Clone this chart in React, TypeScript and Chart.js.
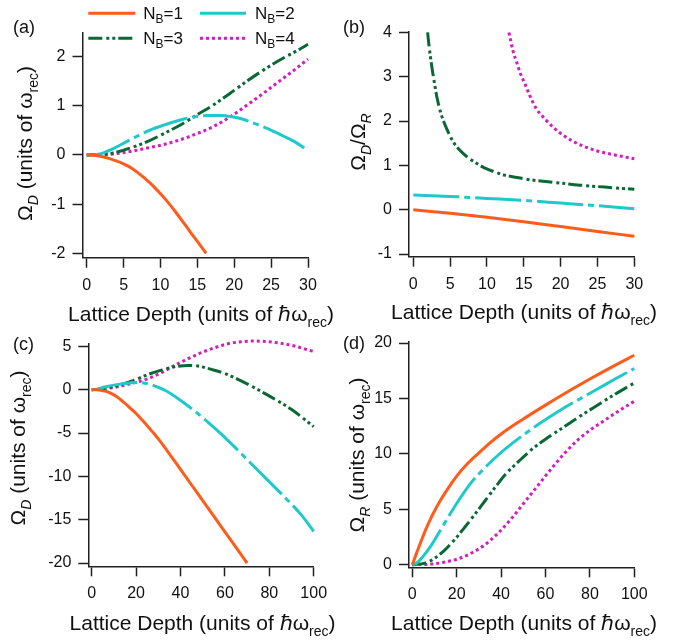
import React, { useEffect, useRef } from "react";
import { Chart, registerables } from "chart.js";

Chart.register(...registerables);

const W = 691;
const H = 641;
const FAMILY = '"Liberation Sans", Arial, Helvetica, sans-serif';

// ---------- Panel (a): Omega_D vs lattice depth (0–30) ----------
const a_nb1_depth = [0, 1, 2, 3, 4, 5, 6, 7, 8, 9, 10, 11, 12, 13, 14, 15, 16, 16.2];
const a_nb1_value = [0, -0.005, -0.03, -0.07, -0.12, -0.18, -0.26, -0.37, -0.49, -0.63, -0.79, -0.96, -1.15, -1.35, -1.56, -1.76, -1.96, -2.0];
const a_nb2_depth = [0, 1, 1.8, 2.7, 3.6, 5.4, 7.2, 9, 10.9, 12.7, 14, 16.3, 18.1, 19.5, 21.3, 23.1, 24.9, 26.7, 28.5, 30];
const a_nb2_value = [0, 0.005, 0.02, 0.07, 0.13, 0.27, 0.41, 0.53, 0.63, 0.71, 0.76, 0.8, 0.8, 0.78, 0.72, 0.62, 0.51, 0.38, 0.24, 0.09];
const a_nb3_depth = [0, 2, 3.6, 5.9, 8.2, 10.4, 12.7, 14.9, 17.2, 19.5, 21.7, 24, 26.3, 28.5, 30];
const a_nb3_value = [0, 0.01, 0.04, 0.14, 0.27, 0.43, 0.61, 0.81, 1.02, 1.26, 1.5, 1.73, 1.94, 2.12, 2.25];
const a_nb4_depth = [0, 2, 3.6, 5.9, 8.2, 10.4, 12.7, 14.9, 17.2, 19.5, 21.7, 24, 26.3, 28.5, 30];
const a_nb4_value = [0, 0.005, 0.02, 0.07, 0.14, 0.21, 0.31, 0.43, 0.58, 0.78, 1.01, 1.26, 1.52, 1.77, 1.95];

// ---------- Panel (b): Omega_D / Omega_R vs lattice depth (0–30) ----------
const b_nb1_depth = [0, 5, 10, 15, 20, 25, 30];
const b_nb1_value = [0, -0.08, -0.17, -0.27, -0.38, -0.49, -0.6];
const b_nb2_depth = [0, 5, 10, 15, 20, 25, 30];
const b_nb2_value = [0.33, 0.3, 0.255, 0.21, 0.15, 0.09, 0.02];
const b_nb3_depth = [1.95, 2.13, 2.49, 2.85, 3.26, 3.76, 4.53, 5.43, 6.33, 7.24, 8.37, 9.73, 11.1, 12.4, 14.3, 16.1, 18.3, 20.6, 22.9, 26, 30];
const b_nb3_value = [4.0, 3.71, 3.26, 2.88, 2.5, 2.17, 1.83, 1.53, 1.34, 1.2, 1.07, 0.94, 0.85, 0.78, 0.72, 0.67, 0.63, 0.59, 0.55, 0.51, 0.46];
const b_nb4_depth = [12.99, 13.26, 13.57, 14.03, 14.48, 15.16, 15.8, 16.7, 17.87, 19, 20.1, 21.5, 23.3, 25.1, 26.9, 30];
const b_nb4_value = [4.0, 3.78, 3.56, 3.33, 3.1, 2.84, 2.58, 2.28, 2.05, 1.86, 1.71, 1.56, 1.42, 1.32, 1.25, 1.15];

// ---------- Panel (c): Omega_D vs lattice depth (0–100) ----------
const c_nb1_depth = [0, 2, 4, 6, 8, 10, 12, 14, 16, 18, 20, 22.5, 25, 27.5, 30, 35, 40, 45, 50, 55, 60, 65, 70];
const c_nb1_value = [0, -0.02, -0.07, -0.17, -0.33, -0.6, -0.95, -1.37, -1.8, -2.28, -2.75, -3.45, -4.15, -4.9, -5.68, -7.4, -9.2, -11.0, -12.8, -14.6, -16.4, -18.2, -20.0];
const c_nb2_depth = [0, 2.5, 5.85, 11.8, 17.8, 20, 22.3, 25.4, 28.4, 34.4, 40.4, 46.4, 50.9, 55.4, 59.9, 65.1, 72.1, 79.5, 87.1, 94.6, 100];
const c_nb2_value = [0, 0.06, 0.3, 0.61, 0.81, 0.83, 0.81, 0.69, 0.42, -0.27, -1.31, -2.47, -3.43, -4.45, -5.5, -6.8, -8.6, -10.5, -12.45, -14.5, -16.35];
const c_nb3_depth = [0, 3, 7.34, 13.4, 19.4, 25.4, 31.4, 37.4, 43.4, 47.9, 53.9, 59.9, 65.9, 71.9, 77.9, 83.9, 89.9, 95.9, 100];
const c_nb3_value = [0, 0.04, 0.23, 0.61, 1.11, 1.76, 2.26, 2.65, 2.8, 2.72, 2.34, 1.88, 1.19, 0.42, -0.43, -1.31, -2.27, -3.43, -4.27];
const c_nb4_depth = [0, 3, 7.34, 13.4, 19.4, 25.4, 31.4, 37.4, 43.4, 49.4, 55.4, 61.4, 67.4, 73.4, 79.4, 85.4, 91.4, 98.2, 100];
const c_nb4_value = [0, 0.03, 0.15, 0.42, 0.81, 1.27, 1.96, 2.8, 3.57, 4.27, 4.84, 5.3, 5.53, 5.61, 5.53, 5.34, 5.03, 4.53, 4.4];

// ---------- Panel (d): Omega_R vs lattice depth (0–100) ----------
const d_nb1_depth = [0, 2, 4, 6, 8, 10, 12.5, 15, 17.5, 20, 25, 30, 35, 40, 50, 60, 70, 80, 90, 100];
const d_nb1_value = [0, 1.1, 2.15, 3.15, 4.05, 4.85, 5.75, 6.55, 7.3, 8.0, 9.15, 10.1, 11.0, 11.8, 13.15, 14.4, 15.6, 16.75, 17.85, 18.9];
const d_nb2_depth = [0, 2, 4.2, 8.7, 13.2, 17.7, 22.2, 26.7, 32.7, 38.7, 46.3, 53.8, 61.3, 68.8, 76.3, 83.8, 91.3, 100];
const d_nb2_value = [0, 0.15, 0.6, 1.8, 3.3, 4.8, 6.2, 7.45, 8.75, 9.9, 11.15, 12.25, 13.25, 14.2, 15.05, 15.9, 16.75, 17.7];
const d_nb3_depth = [0, 5.7, 10.2, 14.7, 19.2, 23.7, 28.2, 32.7, 37.2, 41.7, 47.8, 53.8, 59.8, 67.3, 74.8, 82.3, 89.8, 100];
const d_nb3_value = [0, 0.15, 0.6, 1.35, 2.3, 3.4, 4.55, 5.75, 6.95, 8.1, 9.3, 10.4, 11.3, 12.3, 13.3, 14.25, 15.2, 16.4];
const d_nb4_depth = [0, 8.7, 14.7, 20.7, 26.7, 32.7, 38.7, 44.8, 50.8, 56.8, 62.8, 68.8, 74.8, 80.8, 86.8, 92.8, 100];
const d_nb4_value = [0, 0.06, 0.24, 0.54, 1.06, 1.8, 2.86, 4.2, 5.7, 7.2, 8.7, 10.1, 11.3, 12.25, 13.05, 13.85, 14.75];

// ---------- ticks ----------
const ticksX30 = [0, 5, 10, 15, 20, 25, 30];
const ticksX100 = [0, 20, 40, 60, 80, 100];
const ticksYA = [-2, -1, 0, 1, 2];
const ticksYB = [-1, 0, 1, 2, 3, 4];
const ticksYC = [-20, -15, -10, -5, 0, 5];
const ticksYD = [0, 5, 10, 15, 20];

const legendLabels = ["1", "2", "3", "4"];

// ---------- styles ----------
const COLORS = ["#ff5b1a", "#1fc9c9", "#0a6834", "#d21ebe"];
const DASHES: number[][] = [[], [46, 5, 6, 5], [14, 4, 3, 3, 3, 3], [3, 3]];
const AXIS = "#202020";

type Seg = { t: string; sub?: boolean; it?: boolean };

function fontOf(size: number, it?: boolean) {
  return `${it ? "italic " : ""}${size}px ${FAMILY}`;
}

function drawRich(
  ctx: CanvasRenderingContext2D,
  segs: Seg[],
  x: number,
  baseline: number,
  size: number,
  subSize: number,
  subDy: number,
  align: "left" | "center"
) {
  let w = 0;
  for (const s of segs) {
    ctx.font = fontOf(s.sub ? subSize : size, s.it);
    w += ctx.measureText(s.t).width;
  }
  let cx = align === "center" ? x - w / 2 : x;
  ctx.textAlign = "left";
  ctx.textBaseline = "alphabetic";
  for (const s of segs) {
    ctx.font = fontOf(s.sub ? subSize : size, s.it);
    ctx.fillText(s.t, cx, baseline + (s.sub ? subDy : 0));
    cx += ctx.measureText(s.t).width;
  }
}

const xTitleSegs: Seg[] = [
  { t: "Lattice Depth (units of \u210Fω" },
  { t: "rec", sub: true },
  { t: ")" },
];
const yTitleD: Seg[] = [
  { t: "Ω" },
  { t: "D", sub: true, it: true },
  { t: " (units of ω" },
  { t: "rec", sub: true },
  { t: ")" },
];
const yTitleRatio: Seg[] = [
  { t: "Ω" },
  { t: "D", sub: true, it: true },
  { t: "/Ω" },
  { t: "R", sub: true, it: true },
];
const yTitleR: Seg[] = [
  { t: "Ω" },
  { t: "R", sub: true, it: true },
  { t: " (units of ω" },
  { t: "rec", sub: true },
  { t: ")" },
];

interface Spec {
  area: { l: number; t: number; r: number; b: number };
  xmin: number;
  xmax: number;
  xticks: number[];
  ymin: number;
  ymax: number;
  yticks: number[];
  series: { xs: number[]; ys: number[] }[];
  label: { text: string; x: number; y: number };
  xTitle: { cx: number; by: number };
  yTitle: { segs: Seg[]; bx: number; cy: number };
  legend?: boolean;
}

const specs: Spec[] = [
  {
    area: { l: 82.5, t: 33, r: 308, b: 257.7 },
    xmin: -0.57, xmax: 30, xticks: ticksX30,
    ymin: -2.09, ymax: 2.48, yticks: ticksYA,
    series: [
      { xs: a_nb1_depth, ys: a_nb1_value },
      { xs: a_nb2_depth, ys: a_nb2_value },
      { xs: a_nb3_depth, ys: a_nb3_value },
      { xs: a_nb4_depth, ys: a_nb4_value },
    ],
    label: { text: "(a)", x: 13, y: 33 },
    xTitle: { cx: 201, by: 320.7 },
    yTitle: { segs: yTitleD, bx: 32, cy: 143.5 },
    legend: true,
  },
  {
    area: { l: 409, t: 32, r: 634.3, b: 256.7 },
    xmin: -0.58, xmax: 30, xticks: ticksX30,
    ymin: -1.06, ymax: 4.01, yticks: ticksYB,
    series: [
      { xs: b_nb1_depth, ys: b_nb1_value },
      { xs: b_nb2_depth, ys: b_nb2_value },
      { xs: b_nb3_depth, ys: b_nb3_value },
      { xs: b_nb4_depth, ys: b_nb4_value },
    ],
    label: { text: "(b)", x: 343, y: 33 },
    xTitle: { cx: 524, by: 319 },
    yTitle: { segs: yTitleRatio, bx: 365, cy: 142 },
  },
  {
    area: { l: 88.3, t: 343.3, r: 313.7, b: 566.3 },
    xmin: -1.53, xmax: 100, xticks: ticksX100,
    ymin: -20.38, ymax: 5.35, yticks: ticksYC,
    series: [
      { xs: c_nb1_depth, ys: c_nb1_value },
      { xs: c_nb2_depth, ys: c_nb2_value },
      { xs: c_nb3_depth, ys: c_nb3_value },
      { xs: c_nb4_depth, ys: c_nb4_value },
    ],
    label: { text: "(c)", x: 13, y: 349.5 },
    xTitle: { cx: 202.5, by: 630 },
    yTitle: { segs: yTitleD, bx: 25, cy: 448 },
  },
  {
    area: { l: 409, t: 341.7, r: 634.3, b: 567.3 },
    xmin: -1.49, xmax: 100, xticks: ticksX100,
    ymin: -0.23, ymax: 20.12, yticks: ticksYD,
    series: [
      { xs: d_nb1_depth, ys: d_nb1_value },
      { xs: d_nb2_depth, ys: d_nb2_value },
      { xs: d_nb3_depth, ys: d_nb3_value },
      { xs: d_nb4_depth, ys: d_nb4_value },
    ],
    label: { text: "(d)", x: 343, y: 349 },
    xTitle: { cx: 524, by: 630 },
    yTitle: { segs: yTitleR, bx: 364, cy: 455 },
  },
];

function drawLegend(ctx: CanvasRenderingContext2D) {
  const pos = [
    { x: 88.3, y: 13.3 },
    { x: 200, y: 13.3 },
    { x: 88.3, y: 38.3 },
    { x: 200, y: 38.3 },
  ];
  pos.forEach((p, i) => {
    ctx.save();
    ctx.strokeStyle = COLORS[i];
    ctx.lineWidth = 3;
    ctx.setLineDash(DASHES[i]);
    ctx.beginPath();
    ctx.moveTo(p.x, p.y);
    ctx.lineTo(p.x + 47, p.y);
    ctx.stroke();
    ctx.restore();
    ctx.fillStyle = "#111";
    drawRich(
      ctx,
      [{ t: "N" }, { t: "B", sub: true }, { t: "=" + legendLabels[i] }],
      p.x + 55,
      p.y + 5.5,
      17,
      12,
      4,
      "left"
    );
  });
}

function Panel({ spec }: { spec: Spec }) {
  const ref = useRef<HTMLCanvasElement>(null);
  useEffect(() => {
    const canvas = ref.current!;
    const a = spec.area;
    const tickFont = { family: FAMILY, size: 16 };
    const textPlugin = {
      id: "panelText",
      afterDraw(chart: any) {
        const ctx: CanvasRenderingContext2D = chart.ctx;
        ctx.save();
        ctx.fillStyle = "#111";
        ctx.font = fontOf(18);
        ctx.textAlign = "left";
        ctx.textBaseline = "alphabetic";
        ctx.fillText(spec.label.text, spec.label.x, spec.label.y);
        drawRich(ctx, xTitleSegs, spec.xTitle.cx, spec.xTitle.by, 21, 14, 6, "center");
        ctx.save();
        ctx.translate(spec.yTitle.bx, spec.yTitle.cy);
        ctx.rotate(-Math.PI / 2);
        drawRich(ctx, spec.yTitle.segs, 0, 0, 21, 14, 6, "center");
        ctx.restore();
        if (spec.legend) drawLegend(ctx);
        ctx.restore();
      },
    };
    const chart = new Chart(canvas, {
      type: "line",
      data: {
        datasets: spec.series.map((s, i) => ({
          label: "NB=" + legendLabels[i],
          data: s.xs.map((x, k) => ({ x, y: s.ys[k] })),
          borderColor: COLORS[i],
          backgroundColor: COLORS[i],
          borderWidth: 3,
          borderDash: DASHES[i],
          pointRadius: 0,
          fill: false,
          clip: 5,
          cubicInterpolationMode: "monotone" as const,
        })),
      },
      options: {
        responsive: false,
        animation: false,
        devicePixelRatio: 1,
        layout: { padding: { left: 0, top: a.t, right: W - a.r, bottom: 0 } },
        plugins: { legend: { display: false }, tooltip: { enabled: false } },
        scales: {
          x: {
            type: "linear",
            min: spec.xmin,
            max: spec.xmax,
            afterBuildTicks: (s: any) => {
              s.ticks = spec.xticks.map((v) => ({ value: v }));
            },
            afterFit: (s: any) => {
              s.height = H - a.b;
            },
            grid: {
              display: true,
              drawOnChartArea: false,
              drawTicks: true,
              tickLength: 10,
              tickWidth: 1.5,
              tickColor: AXIS,
            },
            border: { display: true, color: AXIS, width: 1.5 },
            ticks: {
              font: tickFont,
              color: "#111",
              padding: 8,
              maxRotation: 0,
              autoSkip: false,
              callback: (v: any) => String(v),
            },
          },
          y: {
            type: "linear",
            min: spec.ymin,
            max: spec.ymax,
            afterBuildTicks: (s: any) => {
              s.ticks = spec.yticks.map((v) => ({ value: v }));
            },
            afterFit: (s: any) => {
              s.width = a.l;
            },
            grid: {
              display: true,
              drawOnChartArea: false,
              drawTicks: true,
              tickLength: 10,
              tickWidth: 1.5,
              tickColor: AXIS,
            },
            border: { display: true, color: AXIS, width: 1.5 },
            ticks: {
              font: tickFont,
              color: "#111",
              padding: 7,
              autoSkip: false,
              callback: (v: any) => String(v),
            },
          },
        },
      },
      plugins: [textPlugin],
    });
    return () => chart.destroy();
  }, [spec]);
  return (
    <canvas
      ref={ref}
      width={W}
      height={H}
      style={{ position: "absolute", left: 0, top: 0, width: W, height: H }}
    />
  );
}

export default function App() {
  return (
    <div
      style={{
        position: "absolute",
        left: 0,
        top: 0,
        width: W,
        height: H,
        background: "#ffffff",
        overflow: "hidden",
      }}
    >
      {specs.map((s, i) => (
        <Panel key={i} spec={s} />
      ))}
    </div>
  );
}
